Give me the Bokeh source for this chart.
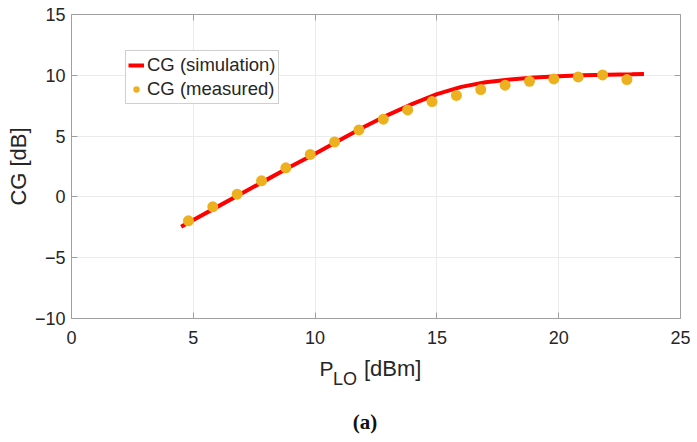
from bokeh.plotting import figure
from bokeh.layouts import column
from bokeh.models import (Range1d, LinearAxis, Legend, LegendItem, FixedTicker,
                          CustomJSTickFormatter)
from bokeh.core.properties import value
from bokeh.embed import file_html
from bokeh.resources import INLINE

# Simulation curve
sim_x = [4.5, 5, 6, 7, 8, 9, 10, 11, 12, 13, 14, 15, 16, 17, 18, 19, 20, 21, 22, 23, 23.5]
sim_y = [-2.45, -1.9, -0.8, 0.3, 1.4, 2.5, 3.55, 4.65, 5.75, 6.75, 7.65, 8.45, 9.05, 9.43, 9.66, 9.82, 9.92, 10.0, 10.05, 10.08, 10.1]

# Measured points
meas_x = [4.8, 5.8, 6.8, 7.8, 8.8, 9.8, 10.8, 11.8, 12.8, 13.8, 14.8, 15.8, 16.8, 17.8, 18.8, 19.8, 20.8, 21.8, 22.8]
meas_y = [-1.97, -0.82, 0.22, 1.32, 2.39, 3.49, 4.52, 5.51, 6.39, 7.15, 7.84, 8.34, 8.83, 9.19, 9.51, 9.70, 9.87, 10.03, 9.65]

x_ticks = [0, 5, 10, 15, 20, 25]
y_ticks = [-10, -5, 0, 5, 10, 15]

FONT = "Liberation Sans"
TXT = "#262626"
AX = "#a0a0a0"

W = 690
H_MAIN = 352
F_LEFT, F_RIGHT = 71, 680

p = figure(width=W, height=H_MAIN, output_backend="svg", toolbar_location=None,
           x_range=Range1d(0, 25), y_range=Range1d(-10, 15),
           min_border_left=F_LEFT, min_border_right=W - F_RIGHT, min_border_top=14,
           min_border_bottom=H_MAIN - 318)
p.outline_line_color = None
p.background_fill_color = "white"

for ax in (p.xaxis[0], p.yaxis[0]):
    ax.axis_line_color = AX
    ax.major_tick_line_color = AX
    ax.major_tick_in = 6
    ax.major_tick_out = 0
    ax.minor_tick_line_color = None
    ax.major_label_text_font = FONT
    ax.major_label_text_font_size = "18px"
    ax.major_label_text_color = TXT

p.xaxis[0].ticker = FixedTicker(ticks=x_ticks)
p.yaxis[0].ticker = FixedTicker(ticks=y_ticks)
p.yaxis[0].major_label_overrides = {t: (("\u2212" + str(-t)) if t < 0 else str(t)) for t in y_ticks}
p.xaxis[0].major_label_standoff = 12
p.yaxis[0].major_label_standoff = 6
p.yaxis[0].axis_label = "CG [dB]"
p.yaxis[0].axis_label_text_font = FONT
p.yaxis[0].axis_label_text_font_size = "22px"
p.yaxis[0].axis_label_text_font_style = "normal"
p.yaxis[0].axis_label_text_color = TXT
p.yaxis[0].axis_label_standoff = 1

# top and right axes (ticks only)
blank = CustomJSTickFormatter(code="return ''")
for loc, tk in (("above", x_ticks), ("right", y_ticks)):
    a = LinearAxis(ticker=FixedTicker(ticks=tk), formatter=blank)
    a.axis_line_color = AX
    a.major_tick_line_color = AX
    a.major_tick_in = 6
    a.major_tick_out = 0
    a.minor_tick_line_color = None
    a.major_label_standoff = 0
    p.add_layout(a, loc)

p.xgrid.ticker = FixedTicker(ticks=x_ticks)
p.ygrid.ticker = FixedTicker(ticks=y_ticks)
p.grid.grid_line_color = "#ebebeb"
p.grid.grid_line_width = 1

r_line = p.line(sim_x, sim_y, line_color="#ff0000", line_width=4)
r_pts = p.scatter(meas_x, meas_y, size=11, fill_color="#EDB120", line_color="#EDB120", line_width=0)

legend = Legend(items=[LegendItem(label="CG (simulation)", renderers=[r_line]),
                       LegendItem(label="CG (measured)", renderers=[r_pts])],
                location=(54, 214), orientation="vertical")
legend.label_text_font = FONT
legend.label_text_font_size = "18.5px"
legend.label_text_color = TXT
legend.border_line_color = AX
legend.border_line_width = 1
legend.background_fill_color = "white"
legend.background_fill_alpha = 1
legend.padding = 2
legend.margin = 0
legend.spacing = 0
legend.glyph_width = 16
legend.glyph_height = 24
legend.label_height = 24
legend.label_standoff = 3
p.add_layout(legend)

# Lower strip: x-axis title (with subscript) and caption, in page pixel coordinates
H_LOW = 88
Y_SHIFT = 9
q = figure(width=W, height=H_LOW, output_backend="svg", toolbar_location=None,
           x_range=Range1d(F_LEFT, F_RIGHT),
           y_range=Range1d(H_MAIN + H_LOW + Y_SHIFT, H_MAIN + Y_SHIFT),
           x_axis_location=None, y_axis_location=None,
           min_border_left=F_LEFT, min_border_right=W - F_RIGHT,
           min_border_top=0, min_border_bottom=0, outline_line_color=None)
q.grid.visible = False

xt_text = ["P", "LO", "[dBm]"]
xt_x = [319, 332.5, 363.5]
xt_y = [376.5, 387.5, 376.5]
xt_size = ["21px", "18px", "22px"]
q.text(x=xt_x, y=xt_y, text=xt_text, text_font=value(FONT), text_font_size=xt_size,
       text_color=TXT, text_align="left", text_baseline="alphabetic")

cap_text = ["(a)"]
q.text(x=[364.5], y=[430], text=cap_text, text_font=value("Liberation Serif"),
       text_font_style="bold", text_font_size="21px", text_color="#111111",
       text_align="center", text_baseline="alphabetic")

layout = column(p, q, spacing=0)
open("out.html", "w").write(file_html(layout, INLINE))
